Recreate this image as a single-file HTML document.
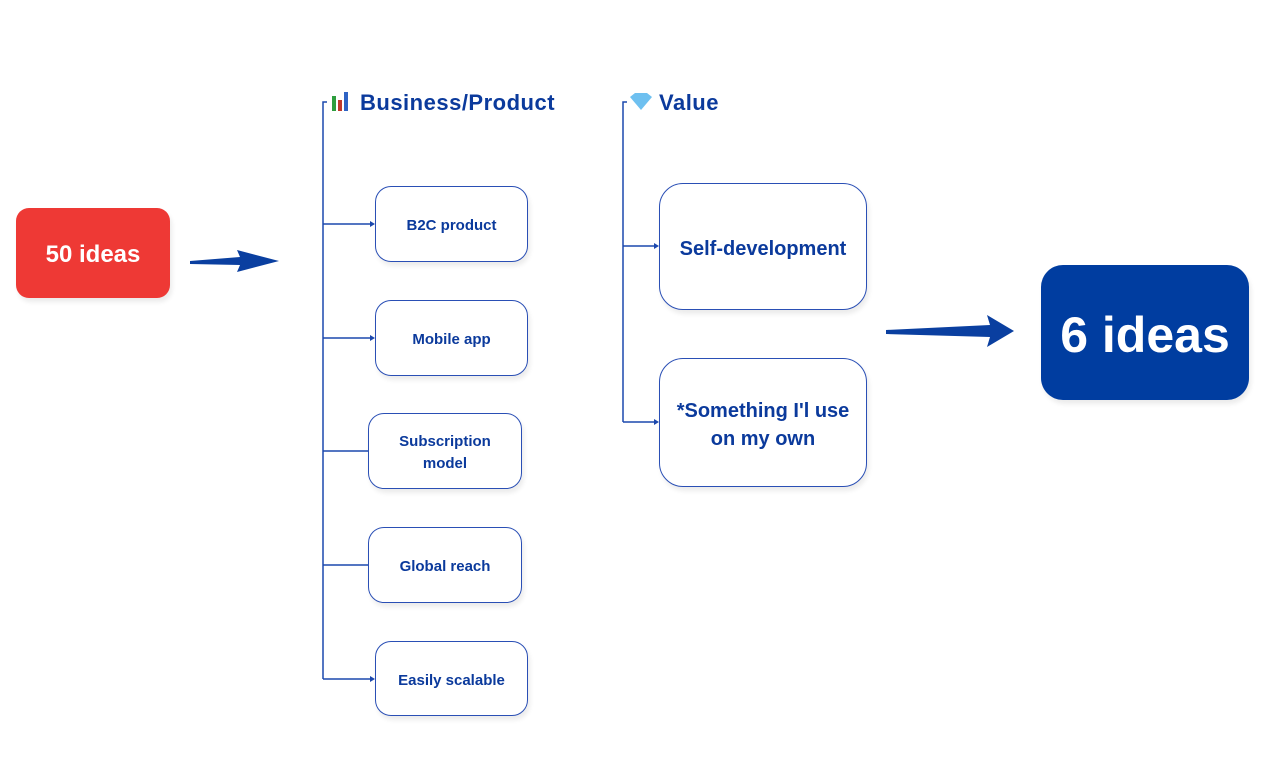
<!DOCTYPE html>
<html><head><meta charset="utf-8"><style>
body{margin:0;width:1283px;height:778px;background:#fff;position:relative;overflow:hidden;font-family:"Liberation Sans",sans-serif;font-weight:bold}
.b{position:absolute;box-sizing:border-box;display:flex;align-items:center;justify-content:center;text-align:center;color:#0b3a9c;border:1px solid #2a4fb5;border-radius:16px;background:#fff;box-shadow:2px 4px 5px rgba(0,0,0,0.08);font-size:15px;line-height:22px;padding-top:4px}
.h{position:absolute;color:#0b3a9c;font-size:22px;letter-spacing:0.5px}
</style></head><body>
<svg width="1283" height="778" style="position:absolute;left:0;top:0">
<g stroke="#1c48ad" stroke-width="1.5" fill="none">
<path d="M327 102 H323 V679"/>
<path d="M323 224 H372 M323 338 H372 M323 451 H368 M323 565 H368 M323 679 H372"/>
<path d="M627 102 H623 V422"/>
<path d="M623 246 H656 M623 422 H656"/>
</g>
<g fill="#1c48ad">
<path d="M375 224 l-5 -3 v6z"/><path d="M375 338 l-5 -3 v6z"/><path d="M375 679 l-5 -3 v6z"/>
<path d="M659 246 l-5 -3 v6z"/><path d="M659 422 l-5 -3 v6z"/>
</g>
<g fill="#0a3fa0">
<path d="M190 261 L240 257 L237 250 L279 261 L237 272 L240 265 L190 264 Z"/>
<path d="M886 330 L990 325 L987 315 L1014 331 L987 347 L990 337 L886 334 Z"/>
</g>
<rect x="332" y="96" width="4" height="15" fill="#2e9e3e"/><rect x="338" y="100" width="4" height="11" fill="#c0392b"/><rect x="344" y="92" width="4" height="19" fill="#2e63c4"/>
<path d="M630 97 L635 93 H647 L652 97 L641 110 Z" fill="#6ec0f0"/>
</svg>
<div class="b" style="left:16px;top:208px;width:154px;height:90px;background:#ee3935;border:none;border-radius:13px;color:#fff;font-size:24px">50 ideas</div>
<div class="h" style="left:360px;top:90px">Business/Product</div>
<div class="h" style="left:659px;top:90px">Value</div>
<div class="b" style="left:375px;top:186px;width:153px;height:76px">B2C product</div>
<div class="b" style="left:375px;top:300px;width:153px;height:76px">Mobile app</div>
<div class="b" style="left:368px;top:413px;width:154px;height:76px">Subscription<br>model</div>
<div class="b" style="left:368px;top:527px;width:154px;height:76px">Global reach</div>
<div class="b" style="left:375px;top:641px;width:153px;height:75px">Easily scalable</div>
<div class="b" style="left:659px;top:183px;width:208px;height:127px;border-radius:24px;font-size:20px;line-height:28px">Self-development</div>
<div class="b" style="left:659px;top:358px;width:208px;height:129px;border-radius:24px;font-size:20px;line-height:28px">*Something I'l use<br>on my own</div>
<div class="b" style="left:1041px;top:265px;width:208px;height:135px;background:#003da0;border:none;border-radius:22px;color:#fff;font-size:50px;line-height:56px">6 ideas</div>
</body></html>
